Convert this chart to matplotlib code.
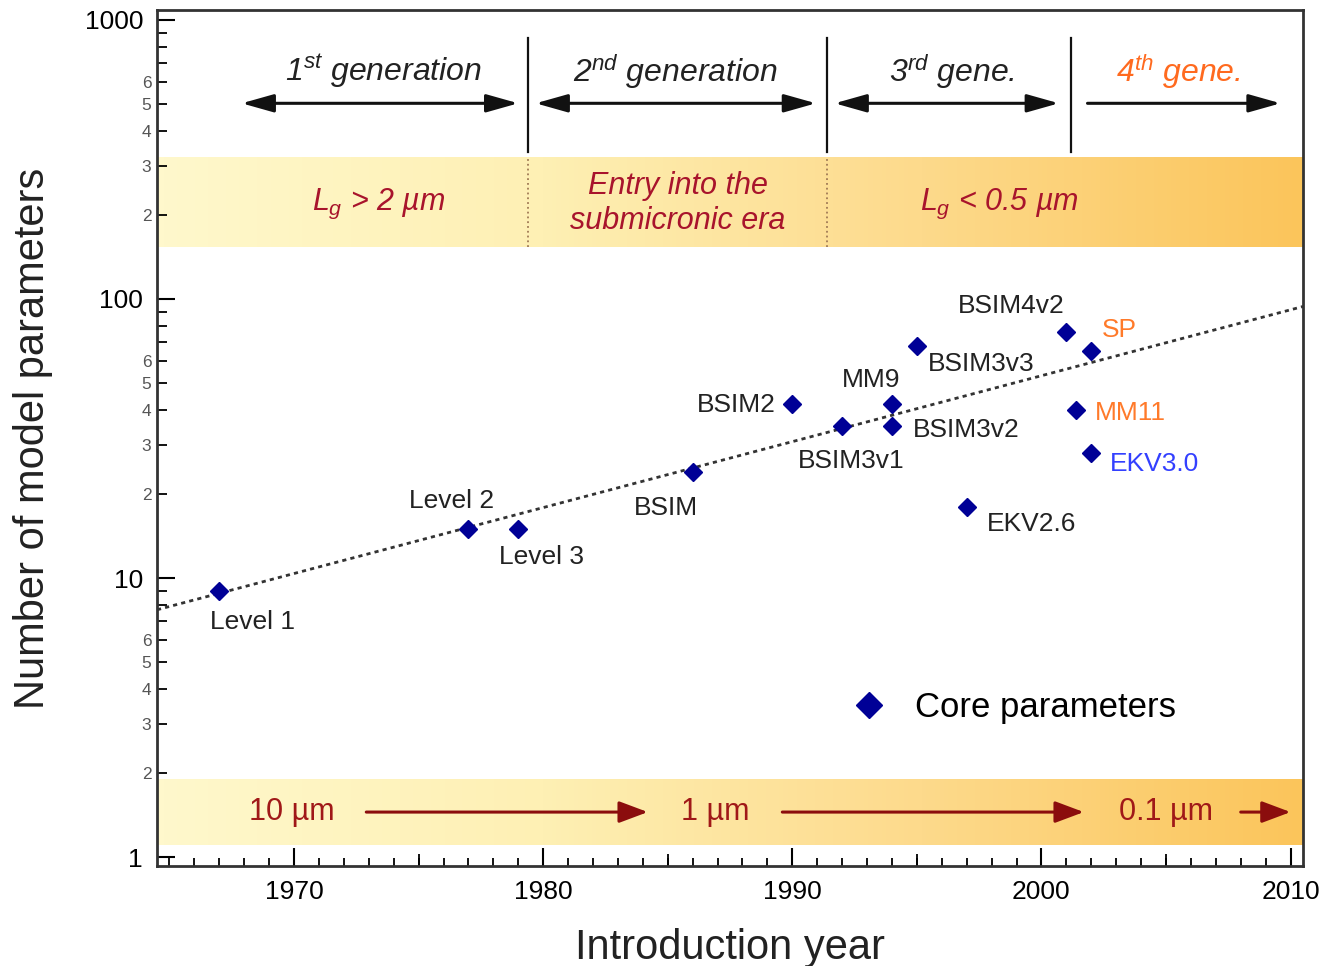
import numpy as np
import matplotlib
matplotlib.use('Agg')
import matplotlib.pyplot as plt
import matplotlib.transforms as mtransforms
from matplotlib import ticker
from matplotlib.colors import LinearSegmentedColormap

plt.rcParams['font.family'] = ['Liberation Sans', 'DejaVu Sans']
plt.rcParams['mathtext.fontset'] = 'custom'
plt.rcParams['mathtext.rm'] = 'Liberation Sans'
plt.rcParams['mathtext.it'] = 'Liberation Sans:italic'

# ---- data ----
models = ['Level 1', 'Level 2', 'Level 3', 'BSIM', 'BSIM2', 'BSIM3v1', 'MM9',
          'BSIM3v2', 'BSIM3v3', 'BSIM4v2', 'SP', 'MM11', 'EKV3.0', 'EKV2.6']
years = [1967, 1977, 1979, 1986, 1990, 1992, 1994,
         1994, 1995, 2001, 2002, 2001.4, 2002, 1997]
params = [9, 15, 15, 24, 42, 35, 42,
          35, 68, 76, 65, 40, 28, 18]

# dotted trend line, end points
trend_years = [1964.5, 2010.5]
trend_params = [7.7, 94]

generations = [r'1$^{st}$ generation', r'2$^{nd}$ generation', r'3$^{rd}$ gene.', r'4$^{th}$ gene.']
gen_bounds = [1979.4, 1991.4, 2001.2]
eras = [r'$L_g$ > 2 µm', 'Entry into the\nsubmicronic era', r'$L_g$ < 0.5 µm']
nodes = ['10 µm', '1 µm', '0.1 µm']

# ---- label placement (pixel offsets, alignment, colour) ----
lab_style = {
    'Level 1': (33, -31, 'center', '#222222'),
    'Level 2': (-17, 28, 'center', '#222222'),
    'Level 3': (23, -28, 'center', '#222222'),
    'BSIM': (-27, -36, 'center', '#222222'),
    'BSIM2': (-17, -1, 'right', '#222222'),
    'BSIM3v1': (9, -35, 'center', '#222222'),
    'MM9': (-21, 24, 'center', '#222222'),
    'BSIM3v2': (21, -4, 'left', '#222222'),
    'BSIM3v3': (11, -18, 'left', '#222222'),
    'BSIM4v2': (-55, 26, 'center', '#222222'),
    'SP': (11, 21, 'left', '#FF7A2A'),
    'MM11': (19, -3, 'left', '#FF7A2A'),
    'EKV3.0': (19, -11, 'left', '#3340FF'),
    'EKV2.6': (20, -17, 'left', '#222222'),
}

W, H = 1326, 966
fig = plt.figure(figsize=(W / 100, H / 100), dpi=100)
rect = [157 / W, 1 - 866 / H, (1303 - 157) / W, (866 - 10) / H]

# background axes only for the gradient bands
bg = fig.add_axes(rect)
bg.set_xlim(0, 1)
bg.set_ylim(0, 1)
bg.axis('off')
cmap = LinearSegmentedColormap.from_list('band', ['#FFF8CC', '#FEF0B4', '#FDDA8C', '#FBC55B'])
grad = np.linspace(0, 1, 256)[None, :]
bg.imshow(grad, extent=[0, 1, 0.723, 0.828], aspect='auto', cmap=cmap, interpolation='bicubic')
bg.imshow(grad, extent=[0, 1, 0.0245, 0.1016], aspect='auto', cmap=cmap, interpolation='bicubic')
bg.set_xlim(0, 1)
bg.set_ylim(0, 1)

ax = fig.add_axes(rect)
ax.set_zorder(1)
ax.patch.set_visible(False)
ax.set_yscale('log')
ax.set_xlim(1964.5, 2010.5)
ax.set_ylim(0.93, 1085)

ax.plot(trend_years, trend_params, color='#333333', lw=2, linestyle=(0, (1.5, 1.5)), zorder=2)
ax.plot(years, params, linestyle='none', marker='D', ms=9, color='#000096',
        label='Core parameters', zorder=3)

for name, x, y in zip(models, years, params):
    dx, dy, ha, c = lab_style[name]
    ax.annotate(name, (x, y), xytext=(dx, dy), textcoords='offset pixels',
                ha=ha, va='center', fontsize=19, color=c)

trans = mtransforms.blended_transform_factory(ax.transData, ax.transAxes)

# generation separators and arrows
for b in gen_bounds:
    ax.plot([b, b], [0.834, 0.967], transform=trans, color='#111111', lw=1.6)
for b in gen_bounds[:2]:
    ax.plot([b, b], [0.723, 0.828], transform=trans, color='#A07A55', lw=1.3, linestyle=':')

gen_arrows = [(1967.9, 1979.0), (1979.7, 1990.95), (1991.7, 2000.7), (2001.85, 2009.6)]
gen_x = [1973.6, 1985.3, 1996.4, 2005.5]
gen_colors = ['#222222', '#222222', '#222222', '#FF6A1F']
for i, (x0, x1) in enumerate(gen_arrows):
    style = '<|-|>,head_length=0.78,head_width=0.22' if i < 3 else '-|>,head_length=0.78,head_width=0.22'
    ax.annotate('', xy=(x1, 0.891), xytext=(x0, 0.891), xycoords=trans, textcoords=trans,
                arrowprops=dict(arrowstyle=style, lw=2.2, color='#111111',
                                shrinkA=0, shrinkB=0, mutation_scale=25))
    ax.text(gen_x[i], 0.928, generations[i], transform=trans, ha='center', va='center',
            fontsize=23, fontstyle='italic', color=gen_colors[i])

# era texts in the upper band
era_x = [1973.4, 1985.4, 1998.3]
for x, t in zip(era_x, eras):
    ax.text(x, 0.774, t, transform=trans, ha='center', va='center', fontsize=22,
            fontstyle='italic', color='#A8142C', linespacing=1.25)

# gate length nodes in the lower band
node_x = [1969.9, 1986.9, 2005.0]
node_arrows = [(1972.9, 1984.2), (1989.6, 2001.7), (2008.0, 2010.0)]
for x, t in zip(node_x, nodes):
    ax.text(x, 0.063, t, transform=trans, ha='center', va='center', fontsize=22, color='#A01818')
for x0, x1 in node_arrows:
    ax.annotate('', xy=(x1, 0.063), xytext=(x0, 0.063), xycoords=trans, textcoords=trans,
                arrowprops=dict(arrowstyle='-|>,head_length=0.8,head_width=0.3', lw=2.2,
                                color='#8B0D0D', shrinkA=0, shrinkB=0, mutation_scale=22))

# axes, ticks
for s in ax.spines.values():
    s.set_linewidth(2)
    s.set_color('#333333')

ax.xaxis.set_major_locator(ticker.MultipleLocator(10))
ax.xaxis.set_minor_locator(ticker.MultipleLocator(1))
ax.tick_params(axis='x', which='major', direction='in', length=13, width=1.5, labelsize=19, pad=10)
ax.tick_params(axis='x', which='minor', direction='in', length=6, width=1.3)
sec = ax.secondary_xaxis('bottom')
sec.set_xticks([1975, 1985, 1995, 2005])
sec.tick_params(direction='in', length=9, width=1.3, labelbottom=False)
sec.spines['bottom'].set_visible(False)

ax.yaxis.set_major_locator(ticker.LogLocator(base=10, numticks=10))
ax.yaxis.set_minor_locator(ticker.LogLocator(base=10, subs=np.arange(2, 10), numticks=50))
ax.yaxis.set_major_formatter(ticker.FuncFormatter(lambda v, p: '%d' % round(v)))


def minor_fmt(v, pos):
    d = int(round(v / 10 ** np.floor(np.log10(v) + 1e-9)))
    return str(d) if d in (2, 3, 4, 5, 6) else ''


ax.yaxis.set_minor_formatter(ticker.FuncFormatter(minor_fmt))
ax.tick_params(axis='y', which='major', direction='in', length=13, width=1.5, labelsize=19, pad=10)
ax.tick_params(axis='y', which='minor', direction='in', length=7, width=1.3, labelsize=12.5,
               labelcolor='#555555', pad=4)
ax.tick_params(top=False, right=False, which='both')

ax.set_xlabel('Introduction year', fontsize=30, color='#222222')
ax.set_ylabel('Number of model parameters', fontsize=30, color='#222222')
ax.xaxis.set_label_coords(0.5, -0.072)
ax.yaxis.set_label_coords(-0.091, 0.5)

ax.legend(loc='center left', bbox_to_anchor=(0.591, 0.1846), frameon=False, fontsize=25,
          borderpad=0, handlelength=1, handletextpad=0.83, markerscale=1.5)

fig.savefig('out.png', dpi=100)
